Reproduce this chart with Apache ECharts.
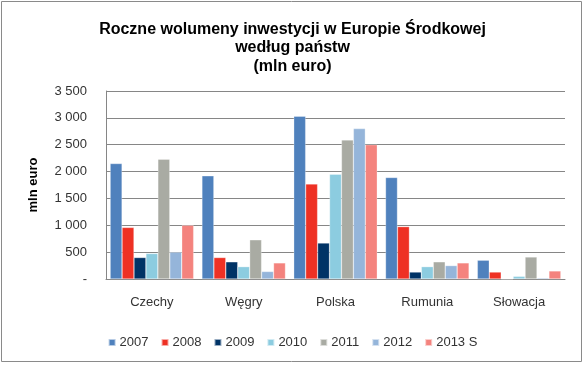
<!DOCTYPE html>
<html><head><meta charset="utf-8">
<script src="https://cdn.jsdelivr.net/npm/echarts@6/dist/echarts.min.js"></script>
<style>html,body{margin:0;padding:0;background:#fff}#c{width:585px;height:365px}</style>
</head><body><div id="c"></div>
<script>
const categories = ['Czechy', 'Węgry', 'Polska', 'Rumunia', 'Słowacja'];
const seriesNames = ['2007', '2008', '2009', '2010', '2011', '2012', '2013 S'];
const v2007 = [2150, 1920, 3030, 1890, 350];
const v2008 = [960, 400, 1770, 975, 130];
const v2009 = [400, 320, 670, 130, 0];
const v2010 = [475, 230, 1950, 230, 50];
const v2011 = [2230, 730, 2590, 320, 410];
const v2012 = [500, 140, 2800, 250, 20];
const v2013 = [1000, 300, 2500, 300, 150];
const yTicks = [0, 500, 1000, 1500, 2000, 2500, 3000, 3500];
const colors = ['#4F81BD', '#EE3124', '#003366', '#8CCCE0', '#A9ABA3', '#95B5DA', '#F4837E'];
const values = [v2007, v2008, v2009, v2010, v2011, v2012, v2013];

const chart = echarts.init(document.getElementById('c'), null, {renderer: 'canvas'});
const font = 'Liberation Sans, Arial, sans-serif';
chart.setOption({
  animation: false,
  textStyle: {fontFamily: font},
  title: {
    text: 'Roczne wolumeny inwestycji w Europie Środkowej\nwedług państw\n(mln euro)',
    left: 'center', top: 15,
    textStyle: {fontSize: 16, fontWeight: 'bold', color: '#000', lineHeight: 18.5, fontFamily: font}
  },
  graphic: [{
    type: 'rect', shape: {x: 1.5, y: 1.5, width: 580, height: 360},
    style: {fill: 'none', stroke: '#8a8a8a', lineWidth: 1}, silent: true
  }],
  grid: {left: 106, right: 20, top: 91, bottom: 86, containLabel: false},
  legend: {
    top: 331, left: 'center', itemWidth: 7, itemHeight: 7, itemGap: 12,
    icon: 'rect',
    textStyle: {fontSize: 13, color: '#333', fontFamily: font, padding: [0, 0, 0, -1]},
    data: seriesNames
  },
  xAxis: {
    type: 'category', data: categories,
    axisLine: {show: true, lineStyle: {color: '#868686'}},
    axisTick: {show: false},
    axisLabel: {color: '#333', fontSize: 13, margin: 17, fontFamily: font}
  },
  yAxis: {
    type: 'value', min: 0, max: 3500, interval: 500,
    name: 'mln euro', nameLocation: 'middle', nameGap: 66, nameRotate: 90,
    nameTextStyle: {fontSize: 13, fontWeight: 'bold', color: '#000', fontFamily: font},
    axisLine: {show: true, lineStyle: {color: '#868686'}},
    axisTick: {show: false},
    splitLine: {lineStyle: {color: '#868686', width: 1}},
    axisLabel: {
      color: '#333', fontSize: 13, margin: 19, fontFamily: font,
      formatter: v => v === 0 ? '-' : String(v).replace(/\B(?=(\d{3})+(?!\d))/g, ' ')
    }
  },
  series: seriesNames.map((n, i) => ({
    name: n, type: 'bar', data: values[i], barGap: '0%', barCategoryGap: '9%',
    itemStyle: {color: colors[i], borderColor: 'rgba(255,255,255,0.6)', borderWidth: 0.5}
  }))
});
</script></body></html>
